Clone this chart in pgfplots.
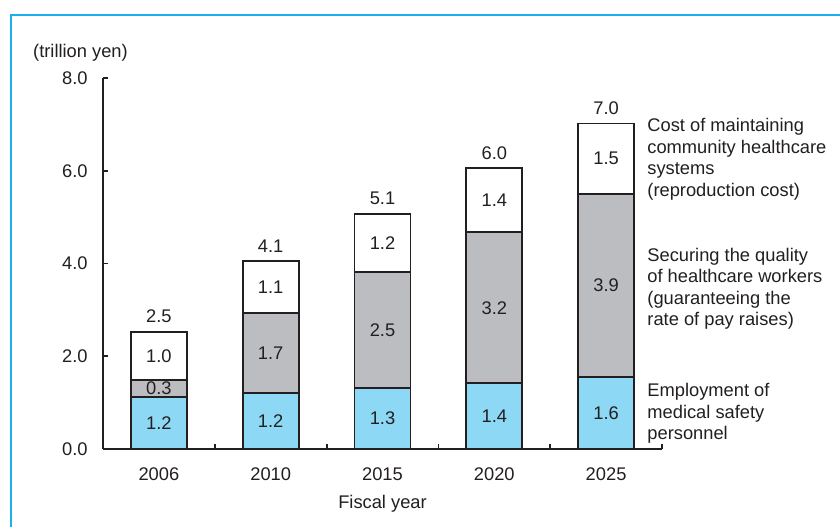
\documentclass[border=0pt]{standalone}
\usepackage{fontspec}
\setmainfont{Liberation Sans}
\usepackage{pgfplots}
\pgfplotsset{compat=1.18}
\definecolor{frameblue}{HTML}{1AB0EC}
\definecolor{barblue}{HTML}{8DD8F5}
\definecolor{bargray}{HTML}{BCBDC1}
\definecolor{ink}{HTML}{231F20}
\pgfplotsset{
  common/.style={
    at={(51.5pt,39pt)}, anchor=south west,
    scale only axis, width=279.5pt, height=185.5pt,
    xmin=-0.5, xmax=4.5, ymin=0, ymax=8, clip=false,
  }
}
\begin{document}
\fontsize{9.15}{10.75}\selectfont
\begin{tikzpicture}
\useasboundingbox (0,0) rectangle (420pt,263.5pt);
\fill[white] (0,0) rectangle (420pt,263.5pt);
\draw[frameblue, line width=1.35pt] (5.5pt,0) -- (5.5pt,256pt) -- (420pt,256pt);
\begin{axis}[common,
  axis lines=left,
  axis line style={-, ink, line width=0.95pt},
  every outer x axis line/.append style={-},
  every outer y axis line/.append style={-},
  every inner x axis line/.append style={-},
  every inner y axis line/.append style={-},
  ybar stacked, bar width=28pt,
  /pgf/number format/assume math mode=true,
  ytick={0,2,4,6,8},
  yticklabel style={anchor=east, inner xsep=0pt, xshift=-7.5pt, text=ink,
    /pgf/number format/fixed, /pgf/number format/fixed zerofill, /pgf/number format/precision=1},
  xtick={-0.5,0.5,1.5,2.5,3.5,4.5},
  xticklabels={,,,,,},
  extra x ticks={0,1,2,3,4},
  extra x tick labels={2006,2010,2015,2020,2025},
  extra x tick style={major tick length=0pt,
    xticklabel style={anchor=base, yshift=-15.5pt, text=ink}},
  tick align=inside, major tick length=2.5pt,
  tick style={ink, line width=0.9pt},
  xlabel={Fiscal year},
  xlabel style={at={(axis description cs:0.5,-0.16)}, anchor=base, text=ink},
]
\addplot[fill=barblue, draw=ink, line width=0.95pt] coordinates {(0,1.13) (1,1.20) (2,1.31) (3,1.42) (4,1.56)};
\addplot[fill=bargray, draw=ink, line width=0.95pt] coordinates {(0,0.36) (1,1.73) (2,2.50) (3,3.25) (4,3.94)};
\addplot[fill=white, draw=ink, line width=0.95pt] coordinates {(0,1.04) (1,1.12) (2,1.26) (3,1.38) (4,1.52)};
\node[anchor=base, text=ink] at (axis description cs:-0.0403,1.0558) {(trillion yen)};
\node[anchor=west, align=left, inner sep=0pt, text=ink] at (axis cs:4.366,6.25) {Cost of maintaining\\community healthcare\\systems\\(reproduction cost)};
\node[anchor=west, align=left, inner sep=0pt, text=ink] at (axis cs:4.366,3.45) {Securing the quality\\of healthcare workers\\(guaranteeing the\\rate of pay raises)};
\node[anchor=west, align=left, inner sep=0pt, text=ink] at (axis cs:4.366,0.77) {Employment of\\medical safety\\personnel};
\end{axis}
\begin{axis}[common, hide axis]
\addplot[draw=none, mark=none, nodes near coords, point meta=explicit symbolic,
  every node near coord/.append style={anchor=center, text=ink}]
  coordinates {
  (0,0.565)[1.2] (1,0.60)[1.2] (2,0.655)[1.3] (3,0.71)[1.4] (4,0.78)[1.6]
  (0,1.31)[0.3] (1,2.065)[1.7] (2,2.56)[2.5] (3,3.045)[3.2] (4,3.53)[3.9]
  (0,2.01)[1.0] (1,3.49)[1.1] (2,4.44)[1.2] (3,5.36)[1.4] (4,6.26)[1.5]
  };
\addplot[draw=none, mark=none, nodes near coords, point meta=explicit symbolic,
  every node near coord/.append style={anchor=south, inner sep=0pt, yshift=4.2pt, text=ink}]
  coordinates {(0,2.53)[2.5] (1,4.05)[4.1] (2,5.07)[5.1] (3,6.05)[6.0] (4,7.02)[7.0]};
\end{axis}
\end{tikzpicture}
\end{document}
